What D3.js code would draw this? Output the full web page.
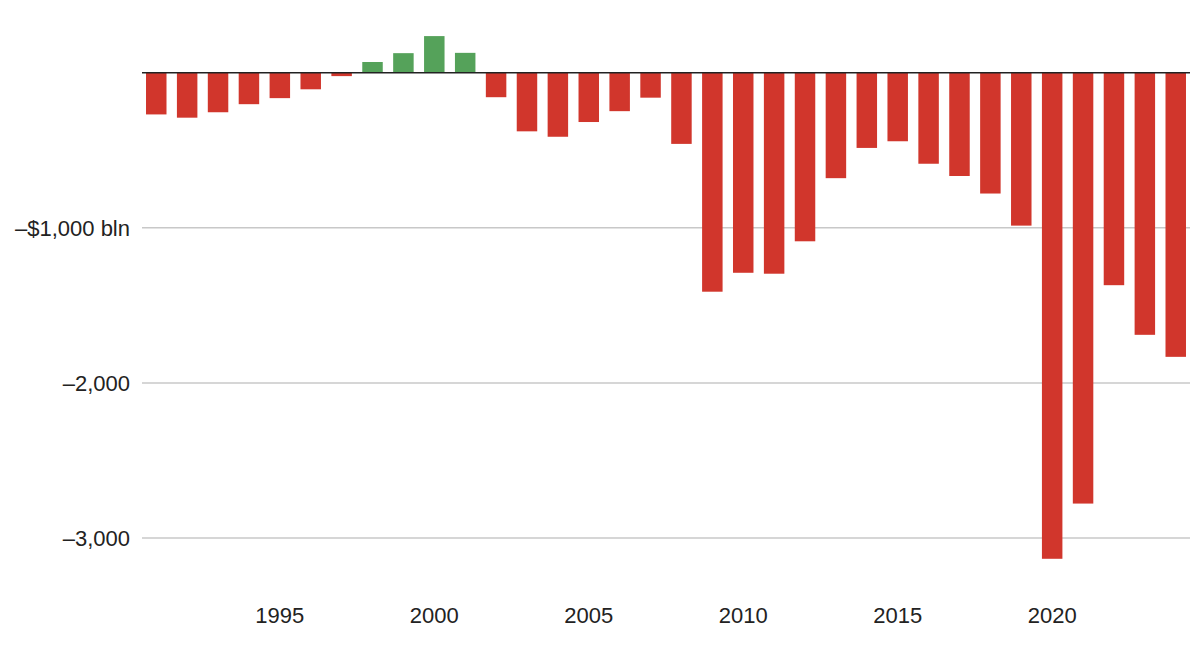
<!DOCTYPE html>
<html>
<head>
<meta charset="utf-8">
<script src="https://cdn.jsdelivr.net/npm/d3@7"></script>
<style>
	body { margin: 0; background: #fff; }
	svg text { font-family: "Helvetica Neue", Helvetica, "Liberation Sans", Arial, sans-serif; fill: #222; }
	.grid line { stroke: #c8c8c8; stroke-width: 1.5; }
	.zero { stroke: #222; stroke-width: 1.5; }
</style>
</head>
<body>
<svg id="chart"></svg>
<script>
// US federal budget balance, $ billion
var years = d3.range(1991, 2025);
var balance = [
	-269, -290, -255, -203, -164, -107, -22, 69, 126, 236,
	128, -158, -378, -413, -318, -248, -161, -459, -1412, -1290,
	-1296, -1087, -680, -485, -442, -587, -666, -779, -986, -3134,
	-2778, -1370, -1690, -1832
];
var yTicks = [-1000, -2000, -3000];
var xTicks = [1995, 2000, 2005, 2010, 2015, 2020];

function DeficitChart(selector) {
	var self = this;
	self.width = 1200;
	self.height = 653;
	self.left = 142;
	self.right = 1190;
	self.svg = d3.select(selector).attr("width", self.width).attr("height", self.height);
	self.x = d3.scaleBand().domain(years).range([self.left, self.right])
		.paddingInner(0.337).paddingOuter(0.13);
	self.y = d3.scaleLinear().domain([-3000, 0]).range([538, 72.7]);
}

DeficitChart.prototype.draw = function() {
	var self = this;
	self.drawGrid();
	self.drawBars();
	self.drawZero();
	self.drawXLabels();
};

DeficitChart.prototype.drawGrid = function() {
	var self = this;
	var g = self.svg.append("g").attr("class", "grid");
	g.selectAll("line").data(yTicks).enter().append("line")
		.attr("x1", self.left).attr("x2", self.right)
		.attr("y1", function(d) { return self.y(d); })
		.attr("y2", function(d) { return self.y(d); });
	g.selectAll("text").data(yTicks).enter().append("text")
		.attr("x", 130)
		.attr("y", function(d) { return self.y(d); })
		.attr("dy", "0.36em")
		.attr("text-anchor", "end")
		.style("font-size", "22px")
		.text(function(d, i) {
			var s = "\u2013" + d3.format(",")(-d);
			return i == 0 ? "\u2013$" + d3.format(",")(-d) + " bln" : s;
		});
};

DeficitChart.prototype.drawBars = function() {
	var self = this;
	var data = years.map(function(yr, i) { return { year: yr, value: balance[i] }; });
	self.svg.append("g").selectAll("rect").data(data).enter().append("rect")
		.attr("x", function(d) { return self.x(d.year); })
		.attr("width", self.x.bandwidth())
		.attr("y", function(d) { return self.y(Math.max(0, d.value)); })
		.attr("height", function(d) { return Math.abs(self.y(d.value) - self.y(0)); })
		.attr("fill", function(d) { return d.value >= 0 ? "#55a25a" : "#d1362c"; });
};

DeficitChart.prototype.drawZero = function() {
	var self = this;
	self.svg.append("line")
		.attr("class", "zero")
		.attr("x1", self.left).attr("x2", self.right)
		.attr("y1", self.y(0)).attr("y2", self.y(0));
};

DeficitChart.prototype.drawXLabels = function() {
	var self = this;
	self.svg.append("g").selectAll("text").data(xTicks).enter().append("text")
		.attr("x", function(d) { return self.x(d) + self.x.bandwidth() / 2; })
		.attr("y", 623)
		.attr("text-anchor", "middle")
		.style("font-size", "22px")
		.text(function(d) { return d; });
};

new DeficitChart("#chart").draw();
</script>
</body>
</html>
